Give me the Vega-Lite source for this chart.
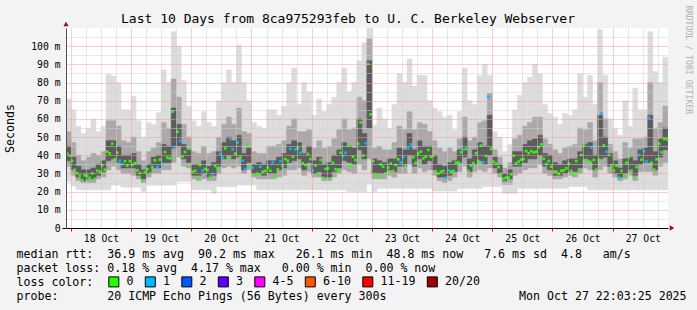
{
"$schema":"https://vega.github.io/schema/vega-lite/v6.json",
"width":602,"height":200,
"autosize":{"type":"none"},
"padding":{"left":66,"top":28,"right":29,"bottom":82},
"background":"#f3f3f3",
"view":{"fill":"white","stroke":null},
"title":{"text":"Last 10 Days from 8ca975293feb to U. C. Berkeley Webserver","font":"DejaVu Sans Mono","fontSize":13,"fontWeight":"normal","color":"#000","anchor":"middle","frame":"group","dx":-19,"dy":36,"offset":5,"baseline":"alphabetic"},
"datasets":{
"smoke":[
{"t":"2025-10-17T22:00Z","e":"2025-10-18T00:00Z","lo":25.5,"a":34,"b":37,"c":45,"d":53,"hi":71},
{"t":"2025-10-18T00:00Z","e":"2025-10-18T02:00Z","lo":23,"a":29,"b":32,"c":39,"d":47,"hi":65},
{"t":"2025-10-18T02:00Z","e":"2025-10-18T04:00Z","lo":21,"a":26,"b":28,"c":34,"d":40,"hi":56},
{"t":"2025-10-18T04:00Z","e":"2025-10-18T06:00Z","lo":21,"a":25,"b":26,"c":32,"d":37,"hi":52},
{"t":"2025-10-18T06:00Z","e":"2025-10-18T08:00Z","lo":21,"a":25,"b":27,"c":32,"d":39,"hi":55},
{"t":"2025-10-18T08:00Z","e":"2025-10-18T10:00Z","lo":21,"a":25,"b":27,"c":33,"d":41,"hi":60},
{"t":"2025-10-18T10:00Z","e":"2025-10-18T12:00Z","lo":21,"a":27,"b":29,"c":35,"d":40,"hi":53},
{"t":"2025-10-18T12:00Z","e":"2025-10-18T14:00Z","lo":21,"a":28,"b":31,"c":37,"d":42,"hi":56},
{"t":"2025-10-18T14:00Z","e":"2025-10-18T16:00Z","lo":21,"a":32,"b":37,"c":48,"d":59,"hi":84.5},
{"t":"2025-10-18T16:00Z","e":"2025-10-18T18:00Z","lo":23.5,"a":34,"b":38,"c":48,"d":59,"hi":83.6},
{"t":"2025-10-18T18:00Z","e":"2025-10-18T20:00Z","lo":23.5,"a":32,"b":36,"c":45,"d":56,"hi":80},
{"t":"2025-10-18T20:00Z","e":"2025-10-18T22:00Z","lo":22.4,"a":30,"b":33,"c":40,"d":48,"hi":65},
{"t":"2025-10-18T22:00Z","e":"2025-10-19T00:00Z","lo":22.4,"a":30,"b":33,"c":40,"d":47,"hi":65},
{"t":"2025-10-19T00:00Z","e":"2025-10-19T02:00Z","lo":22.4,"a":29,"b":33,"c":41,"d":50,"hi":72.6},
{"t":"2025-10-19T02:00Z","e":"2025-10-19T04:00Z","lo":22.4,"a":27,"b":29,"c":35,"d":42,"hi":59},
{"t":"2025-10-19T04:00Z","e":"2025-10-19T06:00Z","lo":20,"a":25,"b":27,"c":32,"d":37,"hi":50},
{"t":"2025-10-19T06:00Z","e":"2025-10-19T08:00Z","lo":23.5,"a":28,"b":30,"c":35,"d":42,"hi":58},
{"t":"2025-10-19T08:00Z","e":"2025-10-19T10:00Z","lo":23.5,"a":30,"b":33,"c":39,"d":44,"hi":57},
{"t":"2025-10-19T10:00Z","e":"2025-10-19T12:00Z","lo":23.5,"a":30,"b":33,"c":40,"d":47,"hi":63.6},
{"t":"2025-10-19T12:00Z","e":"2025-10-19T14:00Z","lo":23.5,"a":32,"b":36,"c":46,"d":58,"hi":87},
{"t":"2025-10-19T14:00Z","e":"2025-10-19T16:00Z","lo":23.5,"a":32,"b":36,"c":45,"d":55,"hi":80},
{"t":"2025-10-19T16:00Z","e":"2025-10-19T18:00Z","lo":23.6,"a":36,"b":44,"c":66,"d":82,"hi":108},
{"t":"2025-10-19T18:00Z","e":"2025-10-19T20:00Z","lo":25.5,"a":39,"b":45,"c":57,"d":72,"hi":100},
{"t":"2025-10-19T20:00Z","e":"2025-10-19T22:00Z","lo":25.5,"a":34,"b":38,"c":46,"d":57,"hi":81},
{"t":"2025-10-19T22:00Z","e":"2025-10-20T00:00Z","lo":25.5,"a":33,"b":36,"c":43,"d":50,"hi":67},
{"t":"2025-10-20T00:00Z","e":"2025-10-20T02:00Z","lo":21,"a":27,"b":29,"c":35,"d":42,"hi":59},
{"t":"2025-10-20T02:00Z","e":"2025-10-20T04:00Z","lo":21,"a":26,"b":29,"c":35,"d":41,"hi":56},
{"t":"2025-10-20T04:00Z","e":"2025-10-20T06:00Z","lo":21,"a":27,"b":30,"c":37,"d":45,"hi":64},
{"t":"2025-10-20T06:00Z","e":"2025-10-20T08:00Z","lo":21,"a":26,"b":28,"c":34,"d":41,"hi":58},
{"t":"2025-10-20T08:00Z","e":"2025-10-20T10:00Z","lo":19,"a":26,"b":29,"c":36,"d":42,"hi":56},
{"t":"2025-10-20T10:00Z","e":"2025-10-20T12:00Z","lo":22.7,"a":30,"b":34,"c":42,"d":50,"hi":70},
{"t":"2025-10-20T12:00Z","e":"2025-10-20T14:00Z","lo":22.7,"a":33,"b":38,"c":47,"d":57,"hi":80},
{"t":"2025-10-20T14:00Z","e":"2025-10-20T16:00Z","lo":22.7,"a":34,"b":40,"c":50,"d":61,"hi":87},
{"t":"2025-10-20T16:00Z","e":"2025-10-20T18:00Z","lo":22.7,"a":33,"b":38,"c":48,"d":57,"hi":80},
{"t":"2025-10-20T18:00Z","e":"2025-10-20T20:00Z","lo":23.6,"a":34,"b":39,"c":51,"d":66,"hi":100.6},
{"t":"2025-10-20T20:00Z","e":"2025-10-20T22:00Z","lo":23.6,"a":30,"b":32,"c":41,"d":53,"hi":80},
{"t":"2025-10-20T22:00Z","e":"2025-10-21T00:00Z","lo":23.6,"a":32,"b":36,"c":44,"d":52,"hi":70},
{"t":"2025-10-21T00:00Z","e":"2025-10-21T02:00Z","lo":23.6,"a":28,"b":30,"c":35,"d":42,"hi":58},
{"t":"2025-10-21T02:00Z","e":"2025-10-21T04:00Z","lo":21,"a":27,"b":30,"c":36,"d":41,"hi":56},
{"t":"2025-10-21T04:00Z","e":"2025-10-21T06:00Z","lo":21,"a":27,"b":29,"c":35,"d":41,"hi":55},
{"t":"2025-10-21T06:00Z","e":"2025-10-21T08:00Z","lo":21,"a":27,"b":30,"c":37,"d":45,"hi":65},
{"t":"2025-10-21T08:00Z","e":"2025-10-21T10:00Z","lo":21,"a":27,"b":30,"c":37,"d":45,"hi":65},
{"t":"2025-10-21T10:00Z","e":"2025-10-21T12:00Z","lo":21,"a":28,"b":32,"c":39,"d":46,"hi":62},
{"t":"2025-10-21T12:00Z","e":"2025-10-21T14:00Z","lo":21,"a":29,"b":33,"c":41,"d":48,"hi":67},
{"t":"2025-10-21T14:00Z","e":"2025-10-21T16:00Z","lo":21,"a":32,"b":36,"c":46,"d":56,"hi":80},
{"t":"2025-10-21T16:00Z","e":"2025-10-21T18:00Z","lo":21,"a":32,"b":37,"c":48,"d":60,"hi":88},
{"t":"2025-10-21T18:00Z","e":"2025-10-21T20:00Z","lo":21,"a":33,"b":38,"c":47,"d":53,"hi":68},
{"t":"2025-10-21T20:00Z","e":"2025-10-21T22:00Z","lo":21,"a":29,"b":32,"c":41,"d":53,"hi":80},
{"t":"2025-10-21T22:00Z","e":"2025-10-22T00:00Z","lo":21,"a":31,"b":36,"c":45,"d":54,"hi":75},
{"t":"2025-10-22T00:00Z","e":"2025-10-22T02:00Z","lo":21,"a":28,"b":30,"c":37,"d":44,"hi":62},
{"t":"2025-10-22T02:00Z","e":"2025-10-22T04:00Z","lo":21,"a":28,"b":31,"c":39,"d":48,"hi":71},
{"t":"2025-10-22T04:00Z","e":"2025-10-22T06:00Z","lo":21,"a":26,"b":28,"c":35,"d":44,"hi":64},
{"t":"2025-10-22T06:00Z","e":"2025-10-22T08:00Z","lo":21,"a":26,"b":28,"c":36,"d":45,"hi":68},
{"t":"2025-10-22T08:00Z","e":"2025-10-22T10:00Z","lo":21,"a":28,"b":31,"c":40,"d":49,"hi":72},
{"t":"2025-10-22T10:00Z","e":"2025-10-22T12:00Z","lo":21,"a":30,"b":33,"c":43,"d":54,"hi":80},
{"t":"2025-10-22T12:00Z","e":"2025-10-22T14:00Z","lo":21,"a":32,"b":37,"c":47,"d":60,"hi":88},
{"t":"2025-10-22T14:00Z","e":"2025-10-22T16:00Z","lo":20,"a":31,"b":36,"c":45,"d":54,"hi":75},
{"t":"2025-10-22T16:00Z","e":"2025-10-22T18:00Z","lo":20,"a":30,"b":35,"c":44,"d":55,"hi":80},
{"t":"2025-10-22T18:00Z","e":"2025-10-22T20:00Z","lo":20,"a":35,"b":43,"c":60,"d":72,"hi":92},
{"t":"2025-10-22T20:00Z","e":"2025-10-22T22:00Z","lo":20,"a":32,"b":38,"c":52,"d":70,"hi":102},
{"t":"2025-10-22T22:00Z","e":"2025-10-23T00:00Z","lo":24,"a":38,"b":55,"c":92,"d":104,"hi":109.8},
{"t":"2025-10-23T00:00Z","e":"2025-10-23T02:00Z","lo":20,"a":27,"b":30,"c":38,"d":44,"hi":56.6},
{"t":"2025-10-23T02:00Z","e":"2025-10-23T04:00Z","lo":21.8,"a":27,"b":30,"c":37,"d":45,"hi":66},
{"t":"2025-10-23T04:00Z","e":"2025-10-23T06:00Z","lo":21.8,"a":27,"b":30,"c":36,"d":43,"hi":60},
{"t":"2025-10-23T06:00Z","e":"2025-10-23T08:00Z","lo":21.8,"a":29,"b":32,"c":38,"d":43,"hi":55},
{"t":"2025-10-23T08:00Z","e":"2025-10-23T10:00Z","lo":21.8,"a":28,"b":31,"c":38,"d":47,"hi":68},
{"t":"2025-10-23T10:00Z","e":"2025-10-23T12:00Z","lo":21.8,"a":30,"b":34,"c":44,"d":56,"hi":85},
{"t":"2025-10-23T12:00Z","e":"2025-10-23T14:00Z","lo":21.8,"a":30,"b":34,"c":43,"d":54,"hi":80},
{"t":"2025-10-23T14:00Z","e":"2025-10-23T16:00Z","lo":21.8,"a":35,"b":40,"c":52,"d":64,"hi":93},
{"t":"2025-10-23T16:00Z","e":"2025-10-23T18:00Z","lo":21.8,"a":30,"b":34,"c":43,"d":54,"hi":78},
{"t":"2025-10-23T18:00Z","e":"2025-10-23T20:00Z","lo":21.8,"a":33,"b":38,"c":48,"d":58,"hi":84},
{"t":"2025-10-23T20:00Z","e":"2025-10-23T22:00Z","lo":21.8,"a":31,"b":35,"c":45,"d":57,"hi":84},
{"t":"2025-10-23T22:00Z","e":"2025-10-24T00:00Z","lo":21.8,"a":32,"b":37,"c":45,"d":53,"hi":70},
{"t":"2025-10-24T00:00Z","e":"2025-10-24T02:00Z","lo":20.3,"a":29,"b":32,"c":40,"d":48,"hi":66},
{"t":"2025-10-24T02:00Z","e":"2025-10-24T04:00Z","lo":20.3,"a":26,"b":28,"c":35,"d":44,"hi":64},
{"t":"2025-10-24T04:00Z","e":"2025-10-24T06:00Z","lo":20.3,"a":25,"b":28,"c":34,"d":42,"hi":61},
{"t":"2025-10-24T06:00Z","e":"2025-10-24T08:00Z","lo":20.3,"a":26,"b":29,"c":36,"d":44,"hi":62},
{"t":"2025-10-24T08:00Z","e":"2025-10-24T10:00Z","lo":20.3,"a":28,"b":31,"c":37,"d":42,"hi":54},
{"t":"2025-10-24T10:00Z","e":"2025-10-24T12:00Z","lo":21.8,"a":31,"b":36,"c":43,"d":49,"hi":64},
{"t":"2025-10-24T12:00Z","e":"2025-10-24T14:00Z","lo":21.8,"a":34,"b":39,"c":50,"d":61,"hi":88},
{"t":"2025-10-24T14:00Z","e":"2025-10-24T16:00Z","lo":21.8,"a":28,"b":31,"c":38,"d":48,"hi":70},
{"t":"2025-10-24T16:00Z","e":"2025-10-24T18:00Z","lo":21.8,"a":31,"b":35,"c":43,"d":50,"hi":68},
{"t":"2025-10-24T18:00Z","e":"2025-10-24T20:00Z","lo":21.8,"a":32,"b":37,"c":47,"d":58,"hi":84},
{"t":"2025-10-24T20:00Z","e":"2025-10-24T22:00Z","lo":22.7,"a":31,"b":35,"c":45,"d":59,"hi":90},
{"t":"2025-10-24T22:00Z","e":"2025-10-25T00:00Z","lo":22.7,"a":33,"b":40,"c":62,"d":74,"hi":84},
{"t":"2025-10-25T00:00Z","e":"2025-10-25T02:00Z","lo":22.7,"a":30,"b":33,"c":39,"d":43,"hi":53},
{"t":"2025-10-25T02:00Z","e":"2025-10-25T04:00Z","lo":22.7,"a":28,"b":30,"c":35,"d":39,"hi":50},
{"t":"2025-10-25T04:00Z","e":"2025-10-25T06:00Z","lo":19,"a":24,"b":26,"c":30,"d":33,"hi":42},
{"t":"2025-10-25T06:00Z","e":"2025-10-25T08:00Z","lo":19,"a":24,"b":27,"c":32,"d":36,"hi":46},
{"t":"2025-10-25T08:00Z","e":"2025-10-25T10:00Z","lo":19,"a":29,"b":34,"c":42,"d":49,"hi":65},
{"t":"2025-10-25T10:00Z","e":"2025-10-25T12:00Z","lo":21.8,"a":30,"b":34,"c":42,"d":51,"hi":73},
{"t":"2025-10-25T12:00Z","e":"2025-10-25T14:00Z","lo":21.8,"a":32,"b":36,"c":46,"d":56,"hi":80},
{"t":"2025-10-25T14:00Z","e":"2025-10-25T16:00Z","lo":21.8,"a":33,"b":38,"c":48,"d":58,"hi":83},
{"t":"2025-10-25T16:00Z","e":"2025-10-25T18:00Z","lo":21.8,"a":33,"b":38,"c":49,"d":61,"hi":90},
{"t":"2025-10-25T18:00Z","e":"2025-10-25T20:00Z","lo":21.8,"a":35,"b":40,"c":51,"d":61,"hi":85},
{"t":"2025-10-25T20:00Z","e":"2025-10-25T22:00Z","lo":21.8,"a":30,"b":34,"c":41,"d":49,"hi":68},
{"t":"2025-10-25T22:00Z","e":"2025-10-26T00:00Z","lo":21.8,"a":29,"b":32,"c":40,"d":46,"hi":63},
{"t":"2025-10-26T00:00Z","e":"2025-10-26T02:00Z","lo":21.8,"a":27,"b":29,"c":36,"d":43,"hi":61},
{"t":"2025-10-26T02:00Z","e":"2025-10-26T04:00Z","lo":21.8,"a":27,"b":29,"c":35,"d":41,"hi":57},
{"t":"2025-10-26T04:00Z","e":"2025-10-26T06:00Z","lo":21.8,"a":28,"b":30,"c":37,"d":44,"hi":63},
{"t":"2025-10-26T06:00Z","e":"2025-10-26T08:00Z","lo":22.7,"a":29,"b":31,"c":38,"d":45,"hi":62},
{"t":"2025-10-26T08:00Z","e":"2025-10-26T10:00Z","lo":22.7,"a":28,"b":31,"c":38,"d":46,"hi":65},
{"t":"2025-10-26T10:00Z","e":"2025-10-26T12:00Z","lo":22.7,"a":30,"b":33,"c":42,"d":55,"hi":85},
{"t":"2025-10-26T12:00Z","e":"2025-10-26T14:00Z","lo":22.7,"a":33,"b":38,"c":46,"d":54,"hi":72},
{"t":"2025-10-26T14:00Z","e":"2025-10-26T16:00Z","lo":21,"a":32,"b":37,"c":47,"d":58,"hi":84},
{"t":"2025-10-26T16:00Z","e":"2025-10-26T18:00Z","lo":21,"a":28,"b":32,"c":40,"d":48,"hi":68},
{"t":"2025-10-26T18:00Z","e":"2025-10-26T20:00Z","lo":21,"a":32,"b":38,"c":62,"d":80,"hi":109},
{"t":"2025-10-26T20:00Z","e":"2025-10-26T22:00Z","lo":21,"a":34,"b":39,"c":50,"d":60,"hi":84},
{"t":"2025-10-26T22:00Z","e":"2025-10-27T00:00Z","lo":21,"a":30,"b":34,"c":41,"d":46,"hi":60},
{"t":"2025-10-27T00:00Z","e":"2025-10-27T02:00Z","lo":21,"a":28,"b":30,"c":37,"d":42,"hi":55},
{"t":"2025-10-27T02:00Z","e":"2025-10-27T04:00Z","lo":21,"a":26,"b":28,"c":33,"d":38,"hi":51},
{"t":"2025-10-27T04:00Z","e":"2025-10-27T06:00Z","lo":21,"a":27,"b":30,"c":38,"d":47,"hi":70},
{"t":"2025-10-27T06:00Z","e":"2025-10-27T08:00Z","lo":21,"a":29,"b":32,"c":39,"d":44,"hi":56},
{"t":"2025-10-27T08:00Z","e":"2025-10-27T10:00Z","lo":21,"a":26,"b":29,"c":37,"d":49,"hi":77},
{"t":"2025-10-27T10:00Z","e":"2025-10-27T12:00Z","lo":21,"a":31,"b":35,"c":43,"d":49,"hi":65},
{"t":"2025-10-27T12:00Z","e":"2025-10-27T14:00Z","lo":21,"a":31,"b":36,"c":44,"d":50,"hi":65},
{"t":"2025-10-27T14:00Z","e":"2025-10-27T16:00Z","lo":21,"a":31,"b":36,"c":62,"d":80,"hi":108},
{"t":"2025-10-27T16:00Z","e":"2025-10-27T18:00Z","lo":21,"a":29,"b":32,"c":42,"d":55,"hi":86},
{"t":"2025-10-27T18:00Z","e":"2025-10-27T20:00Z","lo":21,"a":34,"b":39,"c":49,"d":58,"hi":80},
{"t":"2025-10-27T20:00Z","e":"2025-10-27T22:00Z","lo":21,"a":36,"b":43,"c":55,"d":67,"hi":94}
],
"median":[
{"t":"2025-10-17T22:30Z","m":40.9,"l":"0"},{"t":"2025-10-17T23:30Z","m":39.8,"l":"0"},
{"t":"2025-10-18T00:30Z","m":37,"l":"0"},{"t":"2025-10-18T01:30Z","m":32,"l":"0"},{"t":"2025-10-18T02:30Z","m":30.2,"l":"0"},{"t":"2025-10-18T03:30Z","m":28.8,"l":"0"},{"t":"2025-10-18T04:30Z","m":26.4,"l":"0"},{"t":"2025-10-18T05:30Z","m":29,"l":"0"},{"t":"2025-10-18T06:30Z","m":28.6,"l":"0"},{"t":"2025-10-18T07:30Z","m":27.5,"l":"0"},{"t":"2025-10-18T08:30Z","m":30,"l":"0"},{"t":"2025-10-18T09:30Z","m":27,"l":"0"},{"t":"2025-10-18T10:30Z","m":31.5,"l":"0"},{"t":"2025-10-18T11:30Z","m":31,"l":"0"},{"t":"2025-10-18T12:30Z","m":34.5,"l":"0"},{"t":"2025-10-18T13:30Z","m":32,"l":"0"},{"t":"2025-10-18T14:30Z","m":42,"l":"0"},{"t":"2025-10-18T15:30Z","m":41,"l":"0"},{"t":"2025-10-18T16:30Z","m":46.4,"l":"0"},{"t":"2025-10-18T17:30Z","m":37.8,"l":"0"},{"t":"2025-10-18T18:30Z","m":41.4,"l":"0"},{"t":"2025-10-18T19:30Z","m":37,"l":"1"},{"t":"2025-10-18T20:30Z","m":35,"l":"1"},{"t":"2025-10-18T21:30Z","m":36.7,"l":"0"},{"t":"2025-10-18T22:30Z","m":34.3,"l":"0"},{"t":"2025-10-18T23:30Z","m":36.8,"l":"0"},
{"t":"2025-10-19T00:30Z","m":34.8,"l":"0"},{"t":"2025-10-19T01:30Z","m":35.7,"l":"0"},{"t":"2025-10-19T02:30Z","m":31.7,"l":"0"},{"t":"2025-10-19T03:30Z","m":30.2,"l":"0"},{"t":"2025-10-19T04:30Z","m":26.1,"l":"0"},{"t":"2025-10-19T05:30Z","m":30.8,"l":"0"},{"t":"2025-10-19T06:30Z","m":32.3,"l":"0"},{"t":"2025-10-19T07:30Z","m":30,"l":"0"},{"t":"2025-10-19T08:30Z","m":33.5,"l":"0"},{"t":"2025-10-19T09:30Z","m":37.2,"l":"0"},{"t":"2025-10-19T10:30Z","m":33.7,"l":"1"},{"t":"2025-10-19T11:30Z","m":37.6,"l":"0"},{"t":"2025-10-19T12:30Z","m":35.6,"l":"1"},{"t":"2025-10-19T13:30Z","m":41.8,"l":"0"},{"t":"2025-10-19T14:30Z","m":38.7,"l":"0"},{"t":"2025-10-19T15:30Z","m":38.3,"l":"0"},{"t":"2025-10-19T16:30Z","m":64,"l":"0"},{"t":"2025-10-19T17:30Z","m":44.4,"l":"1"},{"t":"2025-10-19T18:30Z","m":53,"l":"0"},{"t":"2025-10-19T19:30Z","m":47.9,"l":"1"},{"t":"2025-10-19T20:30Z","m":39.2,"l":"0"},{"t":"2025-10-19T21:30Z","m":41.8,"l":"0"},{"t":"2025-10-19T22:30Z","m":34.6,"l":"0"},{"t":"2025-10-19T23:30Z","m":43.5,"l":"0"},
{"t":"2025-10-20T00:30Z","m":31,"l":"0"},{"t":"2025-10-20T01:30Z","m":31.4,"l":"0"},{"t":"2025-10-20T02:30Z","m":27,"l":"0"},{"t":"2025-10-20T03:30Z","m":34.6,"l":"0"},{"t":"2025-10-20T04:30Z","m":31.4,"l":"1"},{"t":"2025-10-20T05:30Z","m":32.5,"l":"0"},{"t":"2025-10-20T06:30Z","m":31.9,"l":"0"},{"t":"2025-10-20T07:30Z","m":28.2,"l":"0"},{"t":"2025-10-20T08:30Z","m":29.7,"l":"1"},{"t":"2025-10-20T09:30Z","m":34.1,"l":"0"},{"t":"2025-10-20T10:30Z","m":32.8,"l":"0"},{"t":"2025-10-20T11:30Z","m":40.7,"l":"1"},{"t":"2025-10-20T12:30Z","m":38.7,"l":"1"},{"t":"2025-10-20T13:30Z","m":43.8,"l":"0"},{"t":"2025-10-20T14:30Z","m":38.7,"l":"0"},{"t":"2025-10-20T15:30Z","m":49,"l":"1"},{"t":"2025-10-20T16:30Z","m":43.3,"l":"1"},{"t":"2025-10-20T17:30Z","m":40.9,"l":"0"},{"t":"2025-10-20T18:30Z","m":47.1,"l":"1"},{"t":"2025-10-20T19:30Z","m":39.2,"l":"0"},{"t":"2025-10-20T20:30Z","m":37,"l":"1"},{"t":"2025-10-20T21:30Z","m":32.5,"l":"1"},{"t":"2025-10-20T22:30Z","m":45.8,"l":"0"},{"t":"2025-10-20T23:30Z","m":33.7,"l":"0"},
{"t":"2025-10-21T00:30Z","m":33.2,"l":"1"},{"t":"2025-10-21T01:30Z","m":29.2,"l":"0"},{"t":"2025-10-21T02:30Z","m":29.9,"l":"0"},{"t":"2025-10-21T03:30Z","m":33.7,"l":"1"},{"t":"2025-10-21T04:30Z","m":31,"l":"0"},{"t":"2025-10-21T05:30Z","m":31.4,"l":"0"},{"t":"2025-10-21T06:30Z","m":33.2,"l":"0"},{"t":"2025-10-21T07:30Z","m":31.5,"l":"0"},{"t":"2025-10-21T08:30Z","m":36.1,"l":"1"},{"t":"2025-10-21T09:30Z","m":28.8,"l":"0"},{"t":"2025-10-21T10:30Z","m":32.3,"l":"0"},{"t":"2025-10-21T11:30Z","m":36.8,"l":"1"},{"t":"2025-10-21T12:30Z","m":34.1,"l":"0"},{"t":"2025-10-21T13:30Z","m":37.9,"l":"0"},{"t":"2025-10-21T14:30Z","m":37,"l":"0"},{"t":"2025-10-21T15:30Z","m":43.5,"l":"1"},{"t":"2025-10-21T16:30Z","m":39.2,"l":"0"},{"t":"2025-10-21T17:30Z","m":43.3,"l":"1"},{"t":"2025-10-21T18:30Z","m":43.8,"l":"0"},{"t":"2025-10-21T19:30Z","m":41.4,"l":"1"},{"t":"2025-10-21T20:30Z","m":35.6,"l":"0"},{"t":"2025-10-21T21:30Z","m":34.6,"l":"0"},{"t":"2025-10-21T22:30Z","m":40.7,"l":"0"},{"t":"2025-10-21T23:30Z","m":37.9,"l":"0"},
{"t":"2025-10-22T00:30Z","m":31.5,"l":"1"},{"t":"2025-10-22T01:30Z","m":34.3,"l":"0"},{"t":"2025-10-22T02:30Z","m":29.7,"l":"0"},{"t":"2025-10-22T03:30Z","m":37.4,"l":"0"},{"t":"2025-10-22T04:30Z","m":27.7,"l":"0"},{"t":"2025-10-22T05:30Z","m":32.5,"l":"0"},{"t":"2025-10-22T06:30Z","m":32.8,"l":"0"},{"t":"2025-10-22T07:30Z","m":27.3,"l":"0"},{"t":"2025-10-22T08:30Z","m":35.9,"l":"0"},{"t":"2025-10-22T09:30Z","m":32.3,"l":"0"},{"t":"2025-10-22T10:30Z","m":31.5,"l":"0"},{"t":"2025-10-22T11:30Z","m":41.4,"l":"0"},{"t":"2025-10-22T12:30Z","m":39.6,"l":"1"},{"t":"2025-10-22T13:30Z","m":41.4,"l":"1"},{"t":"2025-10-22T14:30Z","m":45.3,"l":"0"},{"t":"2025-10-22T15:30Z","m":34.1,"l":"0"},{"t":"2025-10-22T16:30Z","m":39.2,"l":"0"},{"t":"2025-10-22T17:30Z","m":37.4,"l":"0"},{"t":"2025-10-22T18:30Z","m":46.4,"l":"0"},{"t":"2025-10-22T19:30Z","m":58.1,"l":"0"},{"t":"2025-10-22T20:30Z","m":39.8,"l":"0"},{"t":"2025-10-22T21:30Z","m":46.6,"l":"1"},{"t":"2025-10-22T22:30Z","m":90.2,"l":"0"},{"t":"2025-10-22T23:30Z","m":62.5,"l":"0"},
{"t":"2025-10-23T00:30Z","m":36.8,"l":"0"},{"t":"2025-10-23T01:30Z","m":29.7,"l":"0"},{"t":"2025-10-23T02:30Z","m":28.2,"l":"0"},{"t":"2025-10-23T03:30Z","m":35,"l":"0"},{"t":"2025-10-23T04:30Z","m":33.7,"l":"0"},{"t":"2025-10-23T05:30Z","m":30.1,"l":"0"},{"t":"2025-10-23T06:30Z","m":33.2,"l":"0"},{"t":"2025-10-23T07:30Z","m":35.4,"l":"0"},{"t":"2025-10-23T08:30Z","m":31.4,"l":"0"},{"t":"2025-10-23T09:30Z","m":34.6,"l":"0"},{"t":"2025-10-23T10:30Z","m":37.8,"l":"0"},{"t":"2025-10-23T11:30Z","m":36.1,"l":"1"},{"t":"2025-10-23T12:30Z","m":39,"l":"1"},{"t":"2025-10-23T13:30Z","m":34.3,"l":"0"},{"t":"2025-10-23T14:30Z","m":43.8,"l":"1"},{"t":"2025-10-23T15:30Z","m":46,"l":"1"},{"t":"2025-10-23T16:30Z","m":38.9,"l":"0"},{"t":"2025-10-23T17:30Z","m":35.9,"l":"0"},{"t":"2025-10-23T18:30Z","m":40.9,"l":"0"},{"t":"2025-10-23T19:30Z","m":42,"l":"0"},{"t":"2025-10-23T20:30Z","m":38.3,"l":"0"},{"t":"2025-10-23T21:30Z","m":39.2,"l":"0"},{"t":"2025-10-23T22:30Z","m":42.9,"l":"0"},{"t":"2025-10-23T23:30Z","m":39.2,"l":"0"},
{"t":"2025-10-24T00:30Z","m":39.6,"l":"0"},{"t":"2025-10-24T01:30Z","m":31,"l":"0"},{"t":"2025-10-24T02:30Z","m":29.9,"l":"0"},{"t":"2025-10-24T03:30Z","m":31,"l":"0"},{"t":"2025-10-24T04:30Z","m":31.4,"l":"0"},{"t":"2025-10-24T05:30Z","m":27.7,"l":"1"},{"t":"2025-10-24T06:30Z","m":31.7,"l":"1"},{"t":"2025-10-24T07:30Z","m":31,"l":"0"},{"t":"2025-10-24T08:30Z","m":31.4,"l":"0"},{"t":"2025-10-24T09:30Z","m":35.9,"l":"0"},{"t":"2025-10-24T10:30Z","m":36.1,"l":"0"},{"t":"2025-10-24T11:30Z","m":41.6,"l":"0"},{"t":"2025-10-24T12:30Z","m":43.1,"l":"1"},{"t":"2025-10-24T13:30Z","m":43.5,"l":"0"},{"t":"2025-10-24T14:30Z","m":31.5,"l":"0"},{"t":"2025-10-24T15:30Z","m":34.3,"l":"0"},{"t":"2025-10-24T16:30Z","m":35.6,"l":"0"},{"t":"2025-10-24T17:30Z","m":41.1,"l":"0"},{"t":"2025-10-24T18:30Z","m":36.8,"l":"0"},{"t":"2025-10-24T19:30Z","m":45.3,"l":"0"},{"t":"2025-10-24T20:30Z","m":36.1,"l":"1"},{"t":"2025-10-24T21:30Z","m":39.6,"l":"0"},{"t":"2025-10-24T22:30Z","m":72.2,"l":"1"},{"t":"2025-10-24T23:30Z","m":43.5,"l":"0"},
{"t":"2025-10-25T00:30Z","m":36.5,"l":"0"},{"t":"2025-10-25T01:30Z","m":35.4,"l":"0"},{"t":"2025-10-25T02:30Z","m":33.5,"l":"0"},{"t":"2025-10-25T03:30Z","m":29.7,"l":"0"},{"t":"2025-10-25T04:30Z","m":27,"l":"0"},{"t":"2025-10-25T05:30Z","m":27.7,"l":"0"},{"t":"2025-10-25T06:30Z","m":27.7,"l":"0"},{"t":"2025-10-25T07:30Z","m":29.5,"l":"0"},{"t":"2025-10-25T08:30Z","m":39.8,"l":"0"},{"t":"2025-10-25T09:30Z","m":35.6,"l":"0"},{"t":"2025-10-25T10:30Z","m":36.5,"l":"0"},{"t":"2025-10-25T11:30Z","m":37.6,"l":"0"},{"t":"2025-10-25T12:30Z","m":37.9,"l":"0"},{"t":"2025-10-25T13:30Z","m":42.3,"l":"0"},{"t":"2025-10-25T14:30Z","m":41.1,"l":"0"},{"t":"2025-10-25T15:30Z","m":42.3,"l":"0"},{"t":"2025-10-25T16:30Z","m":41.6,"l":"0"},{"t":"2025-10-25T17:30Z","m":42,"l":"0"},{"t":"2025-10-25T18:30Z","m":44.4,"l":"0"},{"t":"2025-10-25T19:30Z","m":46,"l":"0"},{"t":"2025-10-25T20:30Z","m":38.1,"l":"0"},{"t":"2025-10-25T21:30Z","m":35.2,"l":"0"},{"t":"2025-10-25T22:30Z","m":36.8,"l":"0"},{"t":"2025-10-25T23:30Z","m":33.7,"l":"0"},
{"t":"2025-10-26T00:30Z","m":31,"l":"0"},{"t":"2025-10-26T01:30Z","m":31,"l":"0"},{"t":"2025-10-26T02:30Z","m":29.9,"l":"0"},{"t":"2025-10-26T03:30Z","m":31.5,"l":"0"},{"t":"2025-10-26T04:30Z","m":31.7,"l":"0"},{"t":"2025-10-26T05:30Z","m":32.8,"l":"0"},{"t":"2025-10-26T06:30Z","m":35.4,"l":"0"},{"t":"2025-10-26T07:30Z","m":31.4,"l":"0"},{"t":"2025-10-26T08:30Z","m":29.2,"l":"0"},{"t":"2025-10-26T09:30Z","m":36.8,"l":"0"},{"t":"2025-10-26T10:30Z","m":30.8,"l":"0"},{"t":"2025-10-26T11:30Z","m":40.2,"l":"0"},{"t":"2025-10-26T12:30Z","m":45.3,"l":"0"},{"t":"2025-10-26T13:30Z","m":37.4,"l":"0"},{"t":"2025-10-26T14:30Z","m":36.8,"l":"0"},{"t":"2025-10-26T15:30Z","m":44.2,"l":"1"},{"t":"2025-10-26T16:30Z","m":37.4,"l":"0"},{"t":"2025-10-26T17:30Z","m":32.1,"l":"0"},{"t":"2025-10-26T18:30Z","m":37.6,"l":"0"},{"t":"2025-10-26T19:30Z","m":63,"l":"1"},{"t":"2025-10-26T20:30Z","m":45.5,"l":"0"},{"t":"2025-10-26T21:30Z","m":42,"l":"1"},{"t":"2025-10-26T22:30Z","m":40.2,"l":"0"},{"t":"2025-10-26T23:30Z","m":34.3,"l":"0"},
{"t":"2025-10-27T00:30Z","m":31.5,"l":"0"},{"t":"2025-10-27T01:30Z","m":34.3,"l":"0"},{"t":"2025-10-27T02:30Z","m":28,"l":"1"},{"t":"2025-10-27T03:30Z","m":31.4,"l":"0"},{"t":"2025-10-27T04:30Z","m":28.8,"l":"0"},{"t":"2025-10-27T05:30Z","m":35.9,"l":"0"},{"t":"2025-10-27T06:30Z","m":39,"l":"0"},{"t":"2025-10-27T07:30Z","m":31.5,"l":"0"},{"t":"2025-10-27T08:30Z","m":28,"l":"0"},{"t":"2025-10-27T09:30Z","m":33.5,"l":"0"},{"t":"2025-10-27T10:30Z","m":40.2,"l":"1"},{"t":"2025-10-27T11:30Z","m":37.6,"l":"0"},{"t":"2025-10-27T12:30Z","m":42.3,"l":"1"},{"t":"2025-10-27T13:30Z","m":36.7,"l":"1"},{"t":"2025-10-27T14:30Z","m":60.7,"l":"1"},{"t":"2025-10-27T15:30Z","m":35.9,"l":"0"},{"t":"2025-10-27T16:30Z","m":32.1,"l":"0"},{"t":"2025-10-27T17:30Z","m":37.8,"l":"0"},{"t":"2025-10-27T18:30Z","m":46.4,"l":"0"},{"t":"2025-10-27T19:30Z","m":41.6,"l":"0"},{"t":"2025-10-27T20:30Z","m":49,"l":"0"},{"t":"2025-10-27T21:30Z","m":48.8,"l":"0"}
]
},
"layer":[
{"data":{"name":"smoke"},
 "mark":{"type":"rect","color":"#dcdcdc","stroke":"#dcdcdc","strokeWidth":0.5,"clip":true},
 "encoding":{
  "x":{"field":"t","type":"temporal",
   "scale":{"type":"utc","domain":[{"year":2025,"month":10,"date":17,"hours":22,"minutes":3,"seconds":25,"utc":true},{"year":2025,"month":10,"date":27,"hours":22,"minutes":3,"seconds":25,"utc":true}]},
   "axis":{"tickCount":40,
    "labelExpr":"utchours(datum.value) == 12 ? utcFormat(datum.value, '%d %b') : ''",
    "labelFont":"DejaVu Sans Mono","labelFontSize":9.75,"labelColor":"#000","labelPadding":2,"labelOverlap":false,"labelFlush":false,"labelBound":false,
    "grid":true,"gridColor":{"condition":{"test":"utchours(datum.value) == 0","value":"#f79a9a"},"value":"#d0d0d0"},"gridDash":[1,1],"gridWidth":1,
    "ticks":true,"tickSize":3,"tickColor":{"condition":{"test":"utchours(datum.value) == 0","value":"#ff0000"},"value":"rgba(0,0,0,0)"},
    "domainColor":"#000","domainWidth":1,"zindex":1,
    "title":["median rtt:\u00a0\u00a036.9 ms avg\u00a0\u00a090.2 ms max\u00a0\u00a0\u00a026.1 ms min\u00a0\u00a048.8 ms now\u00a0\u00a0\u00a07.6 ms sd\u00a0\u00a04.8\u00a0\u00a0\u00a0am/s","packet loss: 0.18 % avg\u00a0\u00a04.17 % max\u00a0\u00a0\u00a00.00 % min\u00a0\u00a00.00 % now","loss color:","probe:\u00a0\u00a0\u00a0\u00a0\u00a0\u00a0\u00a020 ICMP Echo Pings (56 Bytes) every 300s\u00a0\u00a0\u00a0\u00a0\u00a0\u00a0\u00a0\u00a0\u00a0\u00a0\u00a0\u00a0\u00a0\u00a0\u00a0\u00a0\u00a0\u00a0\u00a0Mon Oct 27 22:03:25 2025"],
    "titleFont":"DejaVu Sans Mono","titleFontSize":11.6,"titleFontWeight":"normal","titleColor":"#000","titleAnchor":"start","titleAlign":"left","titleBaseline":"alphabetic","titleLineHeight":14,"titleX":-50,"titleY":29.5,"titleLimit":2000}},
  "x2":{"field":"e"},
  "y":{"field":"lo","type":"quantitative","scale":{"domain":[0,110],"nice":false,"zero":true},
   "axis":{"orient":"left","values":[0,5,10,15,20,25,30,35,40,45,50,55,60,65,70,75,80,85,90,95,100,105],
    "labelExpr":"datum.value % 10 == 0 ? (datum.value == 0 ? '0\u00a0\u00a0' : datum.value + ' m') : ''",
    "labelFont":"DejaVu Sans Mono","labelFontSize":9.75,"labelColor":"#000","labelPadding":2,"labelOverlap":false,"labelBound":false,
    "ticks":true,"tickSize":4,"tickColor":{"condition":{"test":"datum.value == 0","value":"#000"},"value":"rgba(0,0,0,0)"},
    "grid":true,"gridColor":{"condition":{"test":"datum.value % 10 == 0","value":"#f79a9a"},"value":"#d0d0d0"},"gridDash":[1,1],"gridWidth":1,
    "domainColor":"#505050","domainWidth":1,"zindex":1,
    "title":"Seconds","titleFont":"DejaVu Sans Mono","titleFontSize":11.6,"titleFontWeight":"normal","titleColor":"#000","titleX":-56,"titleY":100,"titleAngle":270,"titleAlign":"center","titleBaseline":"middle"}},
  "y2":{"field":"hi"}}},
{"data":{"name":"smoke"},
 "mark":{"type":"rect","color":"#a9a9a9","stroke":"#a9a9a9","strokeWidth":0.5,"clip":true},
 "encoding":{"x":{"field":"t","type":"temporal"},"x2":{"field":"e"},"y":{"field":"a","type":"quantitative","axis":null},"y2":{"field":"d"}}},
{"data":{"name":"smoke"},
 "mark":{"type":"rect","color":"#5c5c5c","stroke":"#5c5c5c","strokeWidth":0.5,"clip":true},
 "encoding":{"x":{"field":"t","type":"temporal"},"x2":{"field":"e"},"y":{"field":"b","type":"quantitative","axis":null},"y2":{"field":"c"}}},
{"data":{"name":"median"},
 "mark":{"type":"square","size":7,"opacity":1,"clip":true},
 "encoding":{"x":{"field":"t","type":"temporal"},"y":{"field":"m","type":"quantitative","axis":null},
  "color":{"field":"l","type":"nominal",
   "scale":{"domain":["0","1","2","3","4-5","6-10","11-19","20/20"],"range":["#26ff00","#00b8ff","#0059ff","#5e00ff","#ff00ff","#ff5500","#ff0000","#a00000"]},
   "legend":{"orient":"none","legendX":42,"legendY":248,"direction":"horizontal","title":null,
    "labelFont":"DejaVu Sans Mono","labelFontSize":11.6,"labelColor":"#000","labelOffset":7,"columnPadding":8.5,"padding":0,
    "symbolType":"square","symbolSize":100,"symbolStrokeColor":"#000","symbolStrokeWidth":1,"symbolOpacity":1}}}},
{"data":{"values":[{}]},
 "mark":{"type":"point","shape":"triangle-up","size":28,"filled":true,"opacity":1,"color":"#a01010","yOffset":-4},
 "encoding":{"x":{"datum":{"year":2025,"month":10,"date":17,"hours":22,"minutes":3,"seconds":25,"utc":true},"type":"temporal"},"y":{"datum":110,"type":"quantitative","axis":null}}},
{"data":{"values":[{}]},
 "mark":{"type":"point","shape":"triangle-right","size":28,"filled":true,"opacity":1,"color":"#a01010","xOffset":4},
 "encoding":{"x":{"datum":{"year":2025,"month":10,"date":27,"hours":22,"minutes":3,"seconds":25,"utc":true},"type":"temporal"},
  "y":{"datum":0,"type":"quantitative",
   "axis":{"orient":"right","labels":false,"ticks":false,"domain":false,"grid":false,"title":"RRDTOOL / TOBI OETIKER","titleFont":"DejaVu Sans Mono","titleFontSize":8.2,"titleFontWeight":"normal","titleColor":"#b0b0b0","titleAngle":90,"titleX":19.5,"titleY":31.5,"titleAlign":"center","titleBaseline":"middle"}}}}
],
"resolve":{"axis":{"y":"independent"}}
}
